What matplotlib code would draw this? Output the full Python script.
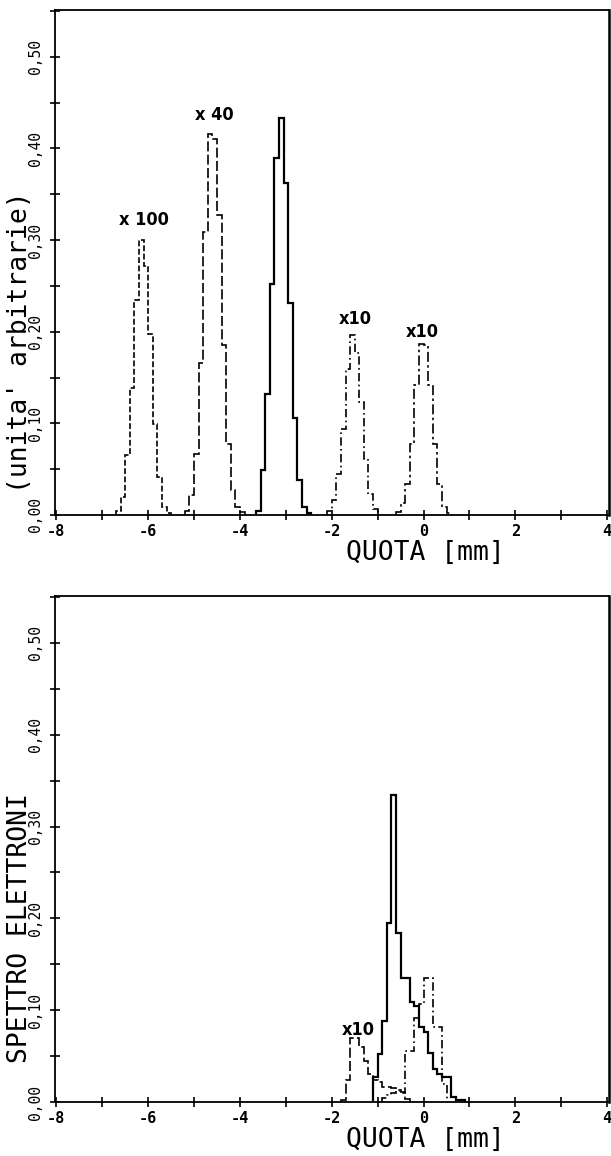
import numpy as np
import matplotlib.pyplot as plt
from matplotlib.ticker import MultipleLocator, FixedLocator, FixedFormatter

plt.rcParams['font.family'] = ['DejaVu Sans Mono']
plt.rcParams['axes.unicode_minus'] = False

LARGH = 0.1  # larghezza dei canali [mm]

# --- pannello superiore: profili a varie quote ---
p1_inizio = -6.7   # x 100
p1_val = [0.004, 0.020, 0.065, 0.139, 0.235, 0.300, 0.272, 0.198, 0.099, 0.041, 0.009, 0.002]
p2_inizio = -5.2   # x 40
p2_val = [0.004, 0.022, 0.067, 0.166, 0.309, 0.416, 0.410, 0.327, 0.186, 0.077, 0.027, 0.009, 0.003]
p3_inizio = -3.65  # x 1
p3_val = [0.004, 0.049, 0.132, 0.252, 0.389, 0.433, 0.362, 0.231, 0.106, 0.038, 0.009, 0.002]
p4_inizio = -2.1   # x 10
p4_val = [0.004, 0.016, 0.045, 0.094, 0.159, 0.196, 0.177, 0.123, 0.061, 0.023, 0.007]
p5_inizio = -0.6   # x 10
p5_val = [0.003, 0.013, 0.034, 0.077, 0.142, 0.187, 0.185, 0.142, 0.077, 0.034, 0.009, 0.002]

# --- pannello inferiore: spettro elettroni ---
s1_inizio = -1.1   # continua
s1_val = [0.027, 0.052, 0.088, 0.195, 0.334, 0.184, 0.135, 0.135, 0.109, 0.104,
          0.082, 0.076, 0.053, 0.036, 0.031, 0.027, 0.027, 0.005, 0.002, 0.002]
s2_inizio = -1.8   # x 10, tratteggiata
s2_val = [0.002, 0.024, 0.070, 0.070, 0.060, 0.045, 0.031, 0.024, 0.022, 0.016,
          0.016, 0.015, 0.013, 0.011, 0.003]
s3_inizio = -0.9   # tratto-punto
s3_val = [0.004, 0.008, 0.010, 0.012, 0.010, 0.056, 0.056, 0.091, 0.107, 0.135,
          0.135, 0.082, 0.082, 0.020]

# etichette fattori di scala (x, y, testo)
scale_sup = [(-6.09, 0.322, 'x 100'), (-4.55, 0.436, 'x 40'),
             (-1.49, 0.214, 'x10'), (-0.02, 0.200, 'x10')]
scale_inf = [(-1.43, 0.078, 'x10')]

x_tick = [-8, -6, -4, -2, 0, 2, 4]
y_tick = [0.0, 0.1, 0.2, 0.3, 0.4, 0.5]
y_lab = ['0,00', '0,10', '0,20', '0,30', '0,40', '0,50']

W, H = 611, 1156
fig = plt.figure(figsize=(W / 100, H / 100), dpi=100)
ax1 = fig.add_axes([54.5 / W, 1 - 515 / H, 554.5 / W, 505 / H])
ax2 = fig.add_axes([54.5 / W, 1 - 1102 / H, 554.5 / W, 506 / H])


def istogramma(ax, inizio, val, stile, lw=1.2):
    bordi = inizio + LARGH * np.arange(len(val) + 1)
    ax.stairs(val, bordi, baseline=0, color='black', linestyle=stile, linewidth=lw)


def prepara(ax, ylabel):
    ax.set_xlim(-8.04, 4.04)
    ax.set_ylim(0, 0.551)
    ax.xaxis.set_major_locator(FixedLocator(x_tick))
    ax.xaxis.set_minor_locator(MultipleLocator(1))
    ax.yaxis.set_major_locator(FixedLocator(y_tick))
    ax.yaxis.set_major_formatter(FixedFormatter(y_lab))
    ax.yaxis.set_minor_locator(MultipleLocator(0.05))
    ax.tick_params(which='both', direction='inout', length=7, width=1.2)
    ax.tick_params(axis='x', which='both', top=False, labelsize=11, pad=3)
    ax.tick_params(axis='y', which='both', right=False, labelsize=10.5, pad=5)
    for t in ax.get_xticklabels():
        t.set_fontweight('bold')
    for t in ax.get_yticklabels():
        t.set_rotation(90)
        t.set_va('center')
    for sp in ax.spines.values():
        sp.set_linewidth(1.3)
    ax.spines['right'].set_linewidth(1.8)
    ax.text(0.668, -0.075, 'QUOTA [mm]', transform=ax.transAxes,
            ha='center', va='center', fontsize=19)
    ax.text(-0.062, 0.343, ylabel, transform=ax.transAxes, rotation=90,
            ha='center', va='center', fontsize=19)


prepara(ax1, "(unita' arbitrarie)")
istogramma(ax1, p1_inizio, p1_val, (0, (3.5, 1.5)))
istogramma(ax1, p2_inizio, p2_val, (0, (6, 2)))
istogramma(ax1, p3_inizio, p3_val, '-', lw=1.6)
istogramma(ax1, p4_inizio, p4_val, (0, (5, 2, 1, 2)))
istogramma(ax1, p5_inizio, p5_val, (0, (6, 2, 1.5, 2)))

prepara(ax2, 'SPETTRO ELETTRONI')
istogramma(ax2, s1_inizio, s1_val, '-', lw=1.6)
istogramma(ax2, s2_inizio, s2_val, (0, (6, 2)))
istogramma(ax2, s3_inizio, s3_val, (0, (5, 2, 1, 2)))

for ax, etich in ((ax1, scale_sup), (ax2, scale_inf)):
    for x, y, t in etich:
        ax.text(x, y, t, ha='center', va='center', fontsize=13, fontweight='bold',
                family=['Liberation Sans Narrow', 'DejaVu Sans'], fontstretch='condensed')

fig.savefig('out.png', dpi=100)
